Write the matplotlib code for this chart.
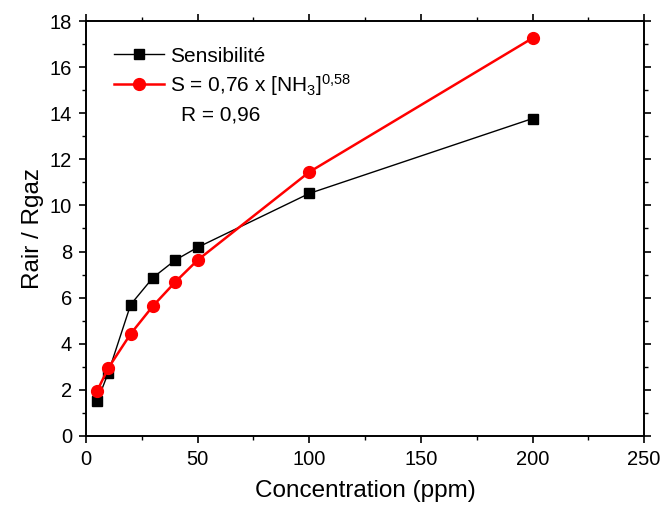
import matplotlib
matplotlib.use("Agg")
import matplotlib.pyplot as plt
from matplotlib.ticker import MultipleLocator

plt.rcParams['font.family'] = ['Liberation Sans', 'DejaVu Sans']
plt.rcParams['mathtext.default'] = 'regular'

# donnees
conc = [5, 10, 20, 30, 40, 50, 100, 200]
sensibilite = [1.5, 2.75, 5.7, 6.87, 7.63, 8.18, 10.52, 13.77]
fit = [1.96, 2.95, 4.43, 5.64, 6.68, 7.63, 11.45, 17.26]

fig = plt.figure(figsize=(6.62, 5.14), dpi=100)
ax = fig.add_axes([0.130, 0.152, 0.843, 0.807])

ax.plot(conc, sensibilite, color='black', lw=1, marker='s', ms=7,
        label='Sensibilité')
ax.plot(conc, fit, color='red', lw=1.8, marker='o', ms=8.5,
        label='S = 0,76 x [NH$_3$]$^{0{,}58}$')

ax.set_xlim(0, 250)
ax.set_ylim(0, 18)
ax.xaxis.set_major_locator(MultipleLocator(50))
ax.xaxis.set_minor_locator(MultipleLocator(25))
ax.yaxis.set_major_locator(MultipleLocator(2))
ax.yaxis.set_minor_locator(MultipleLocator(1))
ax.tick_params(which='major', direction='out', length=5, width=1.2,
               labelsize=14.5, top=True, right=True, pad=5)
ax.tick_params(which='minor', direction='out', length=3, width=1,
               top=True, right=True)
for s in ax.spines.values():
    s.set_linewidth(1.4)

ax.set_xlabel('Concentration (ppm)', fontsize=17.5, labelpad=8)
ax.set_ylabel('Rair / Rgaz', fontsize=17.5, labelpad=4)

leg = ax.legend(loc='upper left', bbox_to_anchor=(0.05, 0.938), frameon=False,
                fontsize=15, handlelength=2.4, handletextpad=0.3,
                labelspacing=0.3, borderaxespad=0, borderpad=0)
ax.text(0.170, 0.773, 'R = 0,96', transform=ax.transAxes, fontsize=15,
        va='center')

fig.savefig('out.png', dpi=100)
